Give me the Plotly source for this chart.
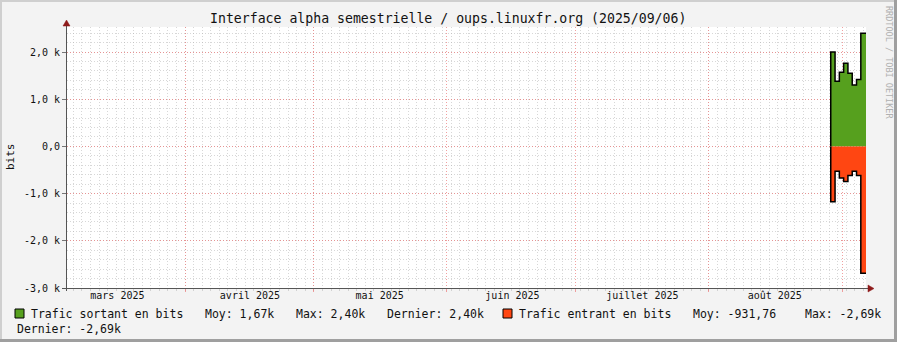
import plotly.graph_objects as go

# ---------------- data ----------------
step_starts = ["2025-08-29 09:00", "2025-08-30 09:00", "2025-08-31 09:00", "2025-09-01 09:00",
               "2025-09-02 09:00", "2025-09-03 09:00", "2025-09-04 09:00", "2025-09-05 09:00"]
step_end = "2025-09-06 14:00"
out_bits = [2000, 1380, 1570, 1760, 1550, 1300, 1420, 2400]
in_bits = [-1170, -525, -670, -745, -617, -525, -617, -2690]

month_starts = ["2025-04-01", "2025-05-01", "2025-06-01", "2025-07-01", "2025-08-01", "2025-09-01"]
month_label_pos = ["2025-03-16 06:00", "2025-04-16 03:00", "2025-05-16 08:00",
                   "2025-06-16 06:00", "2025-07-16 12:00", "2025-08-16 08:00"]
month_labels = ["mars 2025", "avril 2025", "mai 2025", "juin 2025", "juillet 2025", "août 2025"]

y_tickvals = [-3000, -2000, -1000, 0, 1000, 2000]
y_ticktext = ["-3,0 k", "-2,0 k", "-1,0 k", "0,0", "1,0 k", "2,0 k"]

x_range = ["2025-03-04 12:30", "2025-09-06 14:00"]
y_range = [-3000, 2530]

title = "Interface alpha semestrielle / oups.linuxfr.org (2025/09/06)"
legend_out = ["Trafic sortant en bits", "Moy: 1,67k", "Max: 2,40k", "Dernier: 2,40k"]
legend_in = ["Trafic entrant en bits", "Moy: -931,76", "Max: -2,69k", "Dernier: -2,69k"]

# ---------------- layout geometry ----------------
W, H = 897, 342
L, R, T, B = 67, 31, 27, 54
PW, PH = W - L - R, H - T - B
FONT = "DejaVu Sans Mono"
GREEN = "#56a01e"
RED = "#ff4612"
MAJOR = "rgba(235,120,120,0.7)"
MINOR = "rgba(175,175,175,0.5)"


def px(x):
    return (x - L) / PW


def py(y):
    return (H - B - y) / PH


xs = step_starts + [step_end]
out_y = out_bits + [out_bits[-1]]
in_y = in_bits + [in_bits[-1]]

fig = go.Figure()
fig.add_trace(go.Scatter(x=xs, y=out_y, mode="lines", line=dict(width=0, shape="hv"),
                         fill="tozeroy", fillcolor=GREEN, hoverinfo="skip", showlegend=False))
fig.add_trace(go.Scatter(x=xs, y=in_y, mode="lines", line=dict(width=0, shape="hv"),
                         fill="tozeroy", fillcolor=RED, hoverinfo="skip", showlegend=False))
fig.add_trace(go.Scatter(x=[xs[0]] + xs, y=[0] + out_y, mode="lines", xaxis="x2",
                         line=dict(color="black", width=1.5, shape="hv"), showlegend=False))
fig.add_trace(go.Scatter(x=[xs[0]] + xs, y=[0] + in_y, mode="lines", xaxis="x2",
                         line=dict(color="black", width=1.5, shape="hv"), showlegend=False))

fig.update_layout(
    width=W, height=H,
    margin=dict(l=L, r=R, t=T, b=B, pad=0),
    paper_bgcolor="#f3f3f3", plot_bgcolor="white",
    font=dict(family=FONT, size=10, color="#111"),
    showlegend=False,
    xaxis=dict(
        type="date", range=x_range, tickmode="array", tickvals=month_starts,
        ticktext=[""] * len(month_starts), showgrid=True, gridcolor=MAJOR, griddash="1px,2px",
        gridwidth=1, ticks="outside", ticklen=3, tickcolor=MAJOR, showline=False, zeroline=False,
        minor=dict(tickmode="linear", tick0="2025-04-01", dtick=2 * 86400000, showgrid=True,
                   gridcolor=MINOR, griddash="1px,2px", gridwidth=1, ticks="outside",
                   ticklen=2, tickcolor=MINOR),
        fixedrange=True,
    ),
    xaxis2=dict(
        type="date", range=x_range, overlaying="x", side="bottom", tickmode="array",
        tickvals=month_label_pos, ticktext=month_labels, showgrid=False, ticks="",
        tickfont=dict(family=FONT, size=10, color="#111"), showline=False, zeroline=False,
        fixedrange=True,
    ),
    yaxis=dict(
        range=y_range, tickmode="array", tickvals=y_tickvals, ticktext=y_ticktext,
        showgrid=True, gridcolor=MAJOR, griddash="1px,2px", gridwidth=1,
        ticks="outside", ticklen=4, tickcolor="#777", zeroline=False, showline=False,
        tickfont=dict(family=FONT, size=10, color="#111"),
        minor=dict(tickmode="linear", tick0=0, dtick=200, showgrid=True, gridcolor=MINOR,
                   griddash="1px,2px", gridwidth=1),
        fixedrange=True,
    ),
)

shapes = []
AX = "#555555"
ARROW = "#8e1b1b"
# axis lines
shapes.append(dict(type="line", xref="paper", yref="paper", x0=px(66.5), x1=px(66.5),
                   y0=py(291), y1=py(25), line=dict(color=AX, width=1)))
shapes.append(dict(type="line", xref="paper", yref="paper", x0=px(62), x1=px(868),
                   y0=py(288.5), y1=py(288.5), line=dict(color=AX, width=1)))
# arrows
shapes.append(dict(type="path", xref="paper", yref="paper",
                   path=f"M {px(66.5)},{py(20)} L {px(63)},{py(26)} L {px(70)},{py(26)} Z",
                   fillcolor=ARROW, line=dict(color=ARROW, width=0.5)))
shapes.append(dict(type="path", xref="paper", yref="paper",
                   path=f"M {px(874)},{py(288.5)} L {px(868)},{py(285)} L {px(868)},{py(292)} Z",
                   fillcolor=ARROW, line=dict(color=ARROW, width=0.5)))
# legend squares
for x0, col in [(15, GREEN), (503, RED)]:
    shapes.append(dict(type="rect", xref="paper", yref="paper", x0=px(x0), x1=px(x0 + 9),
                       y0=py(318), y1=py(309), fillcolor=col, line=dict(color="black", width=1)))
# 3D frame
shapes.append(dict(type="rect", xref="paper", yref="paper", x0=px(0), x1=px(2), y0=py(H), y1=py(0),
                   fillcolor="#cfcfcf", line=dict(width=0)))
shapes.append(dict(type="rect", xref="paper", yref="paper", x0=px(0), x1=px(W), y0=py(2), y1=py(0),
                   fillcolor="#cfcfcf", line=dict(width=0)))
shapes.append(dict(type="rect", xref="paper", yref="paper", x0=px(W - 3), x1=px(W), y0=py(H), y1=py(0),
                   fillcolor="#9f9f9f", line=dict(width=0)))
shapes.append(dict(type="rect", xref="paper", yref="paper", x0=px(0), x1=px(W), y0=py(H), y1=py(H - 3),
                   fillcolor="#9f9f9f", line=dict(width=0)))
fig.update_layout(shapes=shapes)

ann = []


def text(x, y, s, size=11.5, color="#111", anchor="left", angle=0):
    ann.append(dict(x=px(x), y=py(y), xref="paper", yref="paper", text=s, showarrow=False,
                    xanchor=anchor, yanchor="middle", textangle=angle,
                    font=dict(family=FONT, size=size, color=color)))


text(448, 19, title, size=13.2, anchor="center")
text(10, 157, "bits", size=11, anchor="center", angle=-90)
text(889, 62, "RRDTOOL / TOBI OETIKER", size=8.5, color="#b0b0b0", anchor="center", angle=90)
for x, s in zip([29, 203, 294, 385], legend_out):
    text(x, 314, s)
for x, s in zip([517, 691, 803], legend_in[:3]):
    text(x, 314, s)
text(15, 329, legend_in[3])
fig.update_layout(annotations=ann)

fig.write_html("out.html")
